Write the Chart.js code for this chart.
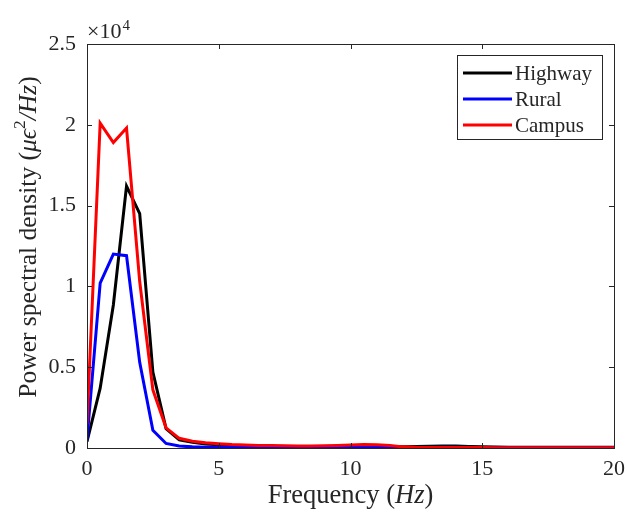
<!DOCTYPE html>
<html>
<head>
<meta charset="utf-8">
<script src="https://cdn.jsdelivr.net/npm/chart.js@4/dist/chart.umd.min.js"></script>
<style>
  body { margin: 0; background: #fff; }
  #wrap { width: 627px; height: 516px; }
</style>
</head>
<body>
<div id="wrap"><canvas id="grafico" width="627" height="516"></canvas></div>
<script>
// frecuencias (Hz)
var frecuencias = [0,0.5,1,1.5,2,2.5,3,3.5,4,4.5,5,5.5,6,6.5,7,7.5,8,8.5,9,9.5,10,
                   10.5,11,11.5,12,12.5,13,13.5,14,14.5,15,15.5,16,16.5,17,17.5,18,18.5,19,19.5,20]

var highway = [400,3700,8850,16200,14500,4700,1200,500,350,250,200,150,130,110,100,90,80,80,80,90,100,
               110,100,90,80,90,110,130,120,90,70,60,50,50,50,40,40,40,40,40,40]
var rural = [500,10200,12000,11900,5300,1100,280,120,70,50,40,40,30,30,30,30,30,30,40,40,50,
             50,50,40,30,30,30,40,40,30,30,20,20,20,20,20,20,20,20,20,20]
var campus = [1500,20100,18900,19800,10300,3600,1250,600,420,320,260,210,180,160,150,140,130,130,140,160,190,
              210,200,150,70,40,30,30,30,30,30,20,20,20,20,20,20,20,20,20,20]

var nombres = ["Highway","Rural","Campus"]
var colores = ["#000000","#0000FF","#FF0000"]
var ticks_x = [0,5,10,15,20]
var ticks_y = [0,5000,10000,15000,20000,25000]

var ejeColor = "#262626"
var fuente = "'Liberation Serif', 'Times New Roman', serif"

function puntos(serie){
  var p = []
  for (var i = 0; i < frecuencias.length; i++){
    p.push({x: frecuencias[i], y: serie[i]})
  }
  return p
}

// texto con partes en cursiva / superindice
function texto_mixto(ctx, partes, x, y, size){
  var total = 0
  for (let p of partes){
    var s = p.sup ? size*0.68 : size
    ctx.font = (p.it ? "italic " : "") + s + "px " + fuente
    p.w = ctx.measureText(p.t).width
    total += p.w
  }
  var cx = x - total/2
  for (let p of partes){
    var s = p.sup ? size*0.68 : size
    ctx.font = (p.it ? "italic " : "") + s + "px " + fuente
    ctx.fillText(p.t, cx, p.sup ? y - size*0.42 : y)
    cx += p.w
  }
}

var estilo_matlab = {
  id: 'estilo_matlab',
  afterDraw: function(chart){
    var ctx = chart.ctx
    var a = chart.chartArea
    var sx = chart.scales.x
    var sy = chart.scales.y
    ctx.save()
    ctx.strokeStyle = ejeColor
    ctx.lineWidth = 1
    // caja
    ctx.strokeRect(Math.round(a.left)+0.5, Math.round(a.top)+0.5, Math.round(a.right-a.left), Math.round(a.bottom-a.top))
    // ticks hacia dentro
    ctx.beginPath()
    for (let v of ticks_x){
      var px = Math.round(sx.getPixelForValue(v))+0.5
      ctx.moveTo(px, a.bottom); ctx.lineTo(px, a.bottom-5)
      ctx.moveTo(px, a.top); ctx.lineTo(px, a.top+5)
    }
    for (let v of ticks_y){
      var py = Math.round(sy.getPixelForValue(v))+0.5
      ctx.moveTo(a.left, py); ctx.lineTo(a.left+5, py)
      ctx.moveTo(a.right, py); ctx.lineTo(a.right-5, py)
    }
    ctx.stroke()

    ctx.fillStyle = ejeColor
    // etiquetas eje x
    ctx.font = "22px " + fuente
    ctx.textAlign = "center"
    ctx.textBaseline = "middle"
    for (let v of ticks_x){
      ctx.fillText(String(v), sx.getPixelForValue(v), a.bottom + 21)
    }

    ctx.textBaseline = "alphabetic"
    ctx.textAlign = "left"
    // x10^4
    ctx.font = "22px " + fuente
    ctx.fillText("\u00d710", a.left, 38)
    var w10 = ctx.measureText("\u00d710").width
    ctx.font = "15px " + fuente
    ctx.fillText("4", a.left + w10 + 1, 30)

    // titulo eje x
    texto_mixto(ctx, [{t:"Frequency ("},{t:"Hz",it:true},{t:")"}], (a.left+a.right)/2, 503, 26.5)

    // titulo eje y
    ctx.save()
    ctx.translate(36, 237)
    ctx.rotate(-Math.PI/2)
    texto_mixto(ctx, [{t:"Power spectral density ("},{t:"\u03bc\u03f5",it:true},{t:"2",sup:true},{t:"/Hz",it:true},{t:")"}], 0, 0, 25.5)
    ctx.restore()

    // leyenda
    var lx = a.right - 157, ly = a.top + 11, lw = 145, lh = 84
    ctx.fillStyle = "#fff"
    ctx.fillRect(lx, ly, lw, lh)
    ctx.strokeStyle = ejeColor
    ctx.strokeRect(lx+0.5, ly+0.5, lw, lh)
    ctx.font = "21px " + fuente
    ctx.textBaseline = "middle"
    for (var i = 0; i < chart.data.datasets.length; i++){
      var ds = chart.data.datasets[i]
      var yy = ly + 18 + i*26
      ctx.strokeStyle = ds.borderColor
      ctx.lineWidth = 3
      ctx.beginPath(); ctx.moveTo(lx+6, yy); ctx.lineTo(lx+55, yy); ctx.stroke()
      ctx.fillStyle = ejeColor
      ctx.fillText(ds.label, lx+58, yy+1)
    }
    ctx.restore()
  }
}

var datasets = []
for (var i = 0; i < nombres.length; i++){
  datasets.push({
    label: nombres[i],
    data: puntos([highway, rural, campus][i]),
    borderColor: colores[i],
    backgroundColor: colores[i],
    borderWidth: 3,
    pointRadius: 0,
    tension: 0,
    order: nombres.length - i
  })
}

var myChart = new Chart(document.getElementById("grafico"), {
  type: 'line',
  data: { datasets: datasets },
  options: {
    responsive: false,
    animation: false,
    layout: { padding: { top: 44, right: 13, left: 0, bottom: 0 } },
    plugins: { legend: { display: false }, tooltip: { enabled: false } },
    scales: {
      x: {
        type: 'linear', min: 0, max: 20,
        grid: { display: false, drawTicks: false },
        border: { display: false },
        afterFit: function(s){ s.height = 68 },
        afterBuildTicks: function(s){ s.ticks = ticks_x.map(function(v){ return {value: v} }) },
        ticks: { display: false }
      },
      y: {
        type: 'linear', min: 0, max: 25000,
        grid: { display: false, drawTicks: false },
        border: { display: false },
        afterFit: function(s){ s.width = 87 },
        afterBuildTicks: function(s){ s.ticks = ticks_y.map(function(v){ return {value: v} }) },
        ticks: { color: ejeColor, font: { family: fuente, size: 22 }, padding: 11,
                 callback: function(v){ return String(v/10000) } }
      }
    }
  },
  plugins: [estilo_matlab]
});
</script>
</body>
</html>
